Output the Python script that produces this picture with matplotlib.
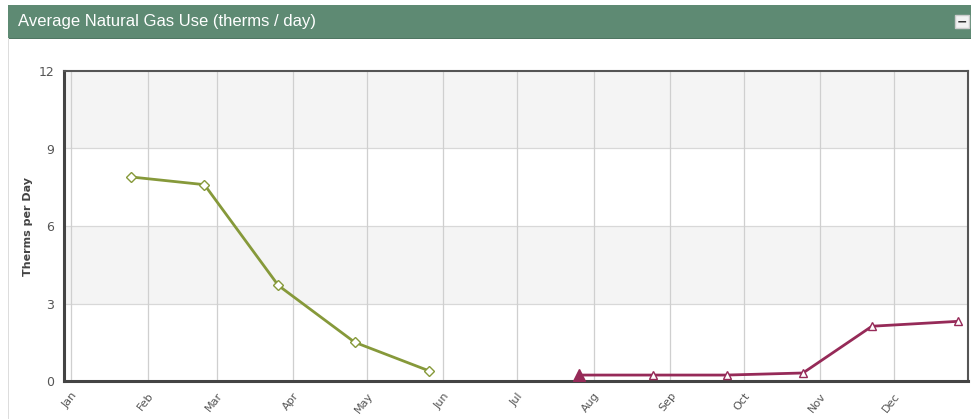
import matplotlib
matplotlib.use("Agg")
import matplotlib.pyplot as plt
from matplotlib.patches import Rectangle
import datetime as dt

# ---- data ----
months = ["Jan", "Feb", "Mar", "Apr", "May", "Jun", "Jul", "Aug", "Sep", "Oct", "Nov", "Dec"]
green_dates = ["2015-01-25", "2015-02-24", "2015-03-26", "2015-04-26", "2015-05-26"]
green_values = [7.9, 7.6, 3.7, 1.5, 0.4]
red_dates = ["2015-07-26", "2015-08-25", "2015-09-24", "2015-10-25", "2015-11-22", "2015-12-27"]
red_values = [0.23, 0.23, 0.23, 0.31, 2.12, 2.31]
yticks = [0, 3, 6, 9, 12]

title = "Average Natural Gas Use (therms / day)"
ylabel = "Therms per Day"

GREEN = "#86993a"
RED = "#962a58"

def d(s):
    return dt.datetime.strptime(s, "%Y-%m-%d")

fig = plt.figure(figsize=(9.71, 4.19), dpi=100)
fig.patch.set_facecolor("white")

# header bar
fig.patches.append(Rectangle((8/971, 1-38/419), 1, 33/419, transform=fig.transFigure,
                             facecolor="#5e8a73", edgecolor="none", zorder=0))
fig.patches.append(Rectangle((8/971, 1-39/419), 1, 1.2/419, transform=fig.transFigure,
                             facecolor="#4f7662", edgecolor="none", zorder=0))
fig.patches.append(Rectangle((8/971, 0), 0.0012, 1-38/419, transform=fig.transFigure,
                             facecolor="#dddddd", edgecolor="none", zorder=0))
fig.text(18/971, 1-21.5/419, title, color="white", fontsize=12, va="center", ha="left",
         family="Liberation Sans")
fig.patches.append(Rectangle((955/971, 1-28/419), 14/971, 13/419, transform=fig.transFigure,
                             facecolor="#f2f2f2", edgecolor="#cccccc", zorder=1))
fig.text(962/971, 1-21.5/419, "−", color="#333333", fontsize=9, va="center", ha="center",
         weight="bold")

ax = fig.add_axes([64/971, 1-381/419, (968-64)/971, (381-71)/419])
ax.set_facecolor("white")

x0 = d("2014-12-29")
x1 = d("2015-12-31")
ax.set_xlim(x0, x1)
ax.set_ylim(0, 12)

# bands
for lo, hi in [(3, 6), (9, 12)]:
    ax.axhspan(lo, hi, color="#f4f4f4", zorder=0, lw=0)

ax.set_yticks(yticks)
ax.set_yticklabels([str(v) for v in yticks])
tick_dates = [dt.datetime(2015, i + 1, 1) for i in range(12)]
ax.set_xticks(tick_dates)
ax.set_xticklabels(months, rotation=52, ha="right", va="top", rotation_mode="anchor")
ax.tick_params(axis="both", length=0, colors="#555555", labelsize=8)
ax.tick_params(axis="x", pad=7)
ax.tick_params(axis="y", pad=7, labelsize=9)

for yv in yticks[1:-1]:
    ax.axhline(yv, color="#d8d8d8", lw=0.9, zorder=1)
for td in tick_dates:
    ax.axvline(td, color="#cfcfcf", lw=0.9, zorder=1)

gx = [d(s) for s in green_dates]
rx = [d(s) for s in red_dates]
ax.plot(gx, green_values, color=GREEN, lw=2, marker="D", markersize=5,
        markerfacecolor="white", markeredgecolor=GREEN, markeredgewidth=1, zorder=3)
ax.plot(rx, red_values, color=RED, lw=2, marker="^", markersize=6,
        markerfacecolor="white", markeredgecolor=RED, markeredgewidth=1, zorder=3)
ax.plot(rx[:1], red_values[:1], color=RED, lw=0, marker="^", markersize=9,
        markerfacecolor=RED, markeredgecolor=RED, zorder=4)

for side in ["left", "bottom"]:
    ax.spines[side].set_color("#444444")
    ax.spines[side].set_linewidth(2.2)
for side in ["top", "right"]:
    ax.spines[side].set_color("#555555")
    ax.spines[side].set_linewidth(1.5)

ax.set_ylabel(ylabel, fontsize=8, fontweight="bold", color="#444444", labelpad=4)

fig.savefig("out.png", dpi=100, facecolor="white")
